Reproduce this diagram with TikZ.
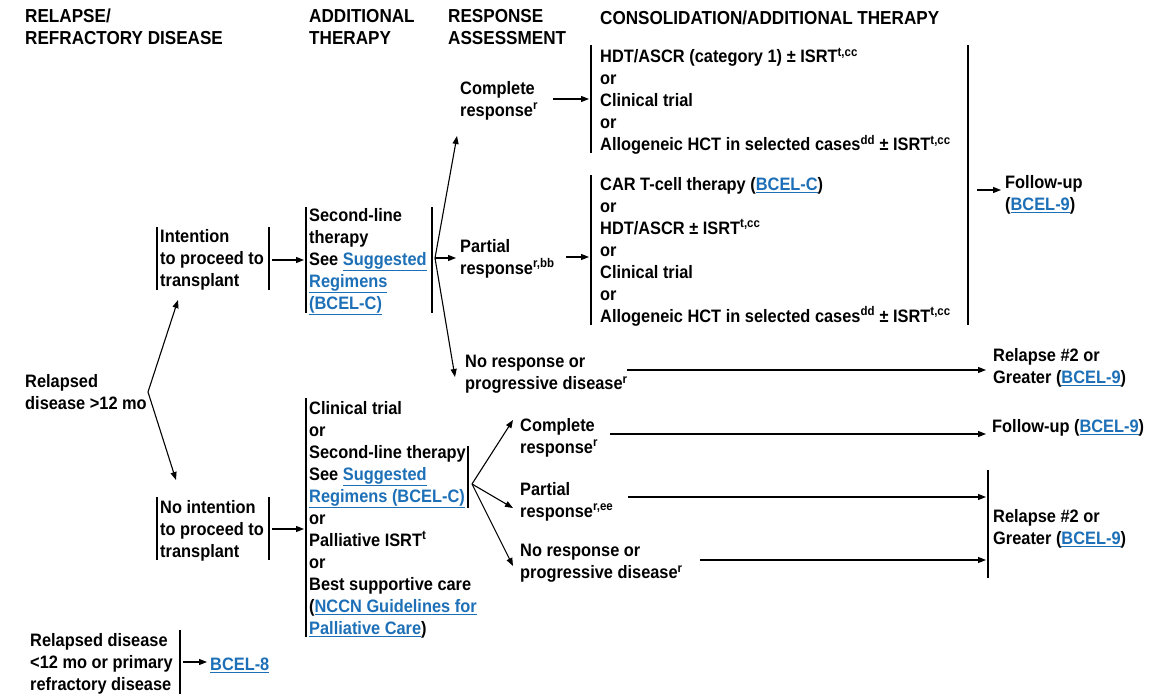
\documentclass[tikz,border=0pt]{standalone}
\usepackage{fontspec}
\setmainfont[FakeStretch=0.91]{Liberation Sans}
\usetikzlibrary{arrows.meta}
\definecolor{lnkc}{RGB}{29,112,183}
\newcommand{\lnk}[1]{\textcolor{lnkc}{\underline{#1}}}
\begin{document}
\begin{tikzpicture}[x=1pt,y=-1pt,
  txt/.style={anchor=north west, inner sep=0pt, align=left, yshift=-2pt,
    font=\fontsize{18}{22}\selectfont\bfseries, execute at begin node=\strut},
  hdr/.style={txt, font=\fontsize{18.8}{22}\selectfont\bfseries},
  bar/.style={line width=1.1pt},
  arr/.style={line width=1.1pt, -{Triangle[length=8pt,width=6pt]}}]
\useasboundingbox (0,0) rectangle (1165,694);
\fill[white] (0,0) rectangle (1165,694);

% headers
\node[hdr] (h1) at (25,7) {RELAPSE/\\REFRACTORY DISEASE};
\node[hdr] (h2) at (309,7) {ADDITIONAL\\THERAPY};
\node[hdr] (h3) at (448,7) {RESPONSE\\ASSESSMENT};
\node[hdr] (h4) at (600,7) {CONSOLIDATION/ADDITIONAL THERAPY};

% left
\node[txt] (rel) at (25,372) {Relapsed\\disease >12 mo};
\node[txt] (int) at (160,227) {Intention\\to proceed to\\transplant};
\node[txt] (sec) at (309,206) {Second-line\\therapy\\See \lnk{Suggested}\\\lnk{Regimens}\\\lnk{(BCEL-C)}};
\node[txt] (cr1) at (460,79) {Complete\\response\textsuperscript{r}};
\node[txt] (c1) at (600,46) {HDT/ASCR (category 1) ± ISRT\textsuperscript{t,cc}\\or\\Clinical trial\\or\\Allogeneic HCT in selected cases\textsuperscript{dd} ± ISRT\textsuperscript{t,cc}};
\node[txt] (pr1) at (460,237) {Partial\\response\textsuperscript{r,bb}};
\node[txt] (c2) at (600,175) {CAR T-cell therapy (\lnk{BCEL-C})\\or\\HDT/ASCR ± ISRT\textsuperscript{t,cc}\\or\\Clinical trial\\or\\Allogeneic HCT in selected cases\textsuperscript{dd} ± ISRT\textsuperscript{t,cc}};
\node[txt] (fu1) at (1005,173) {Follow-up\\(\lnk{BCEL-9})};
\node[txt] (nr1) at (465,353) {No response or\\progressive disease\textsuperscript{r}};
\node[txt] (rl1) at (993,346) {Relapse \#2 or\\Greater (\lnk{BCEL-9})};

% bottom half
\node[txt] (noint) at (160,498) {No intention\\to proceed to\\transplant};
\node[txt] (big) at (309,399) {Clinical trial\\or\\Second-line therapy\\See \lnk{Suggested}\\\lnk{Regimens (BCEL-C)}\\or\\Palliative ISRT\textsuperscript{t}\\or\\Best supportive care\\(\lnk{NCCN Guidelines for}\\\lnk{Palliative Care})};
\node[txt] (cr2) at (520,416) {Complete\\response\textsuperscript{r}};
\node[txt] (fu2) at (992,415) {Follow-up (\lnk{BCEL-9})};
\node[txt] (pr2) at (520,480) {Partial\\response\textsuperscript{r,ee}};
\node[txt] (nr2) at (520,542) {No response or\\progressive disease\textsuperscript{r}};
\node[txt] (rl2) at (993,507) {Relapse \#2 or\\Greater (\lnk{BCEL-9})};
\node[txt] (r12) at (30,631) {Relapsed disease\\<12 mo or primary\\refractory disease};
\node[txt] (b8) at (210,653) {\lnk{BCEL-8}};

% bars
\draw[bar] (157,227) -- (157,290);
\draw[bar] (269,227) -- (269,290);
\draw[bar] (306,207) -- (306,313);
\draw[bar] (432,207) -- (432,313);
\draw[bar] (591,45) -- (591,153);
\draw[bar] (591,175) -- (591,325);
\draw[bar] (968,45) -- (968,325);
\draw[bar] (157,497) -- (157,560);
\draw[bar] (269,497) -- (269,560);
\draw[bar] (306,398) -- (306,637);
\draw[bar] (468,446) -- (468,508);
\draw[bar] (988,470) -- (988,578);
\draw[bar] (180,630) -- (180,694);

% branch points and arrow ends
\coordinate (v1) at (148,392);
\coordinate (t1) at (178,300);
\coordinate (t2) at (176,480);
\coordinate (v2) at (435,258);
\coordinate (t3) at (457,136);
\coordinate (t4) at (456,258);
\coordinate (t5) at (455,377);
\coordinate (v3) at (472,484);
\coordinate (t6) at (513,420);
\coordinate (t7) at (513,508);
\coordinate (t8) at (513,566);

\draw[arr] (v1) -- (t1);
\draw[arr] (v1) -- (t2);
\draw[arr] (v2) -- (t3);
\draw[arr] (v2) -- (t4);
\draw[arr] (v2) -- (t5);
\draw[arr] (v3) -- (t6);
\draw[arr] (v3) -- (t7);
\draw[arr] (v3) -- (t8);

\coordinate (a1s) at (272,260); \coordinate (a1e) at (304,260);
\coordinate (a2s) at (553,99);  \coordinate (a2e) at (589,99);
\coordinate (a3s) at (566,257); \coordinate (a3e) at (589,257);
\coordinate (a4s) at (977,190); \coordinate (a4e) at (1001,190);
\coordinate (a5s) at (627,370); \coordinate (a5e) at (986,370);
\coordinate (a6s) at (272,529); \coordinate (a6e) at (304,529);
\coordinate (a7s) at (610,434); \coordinate (a7e) at (986,434);
\coordinate (a8s) at (628,497); \coordinate (a8e) at (986,497);
\coordinate (a9s) at (700,560); \coordinate (a9e) at (986,560);
\coordinate (a10s) at (183,662); \coordinate (a10e) at (207,662);
\foreach \i in {1,...,10} {\draw[arr] (a\i s) -- (a\i e);}
\end{tikzpicture}
\end{document}
